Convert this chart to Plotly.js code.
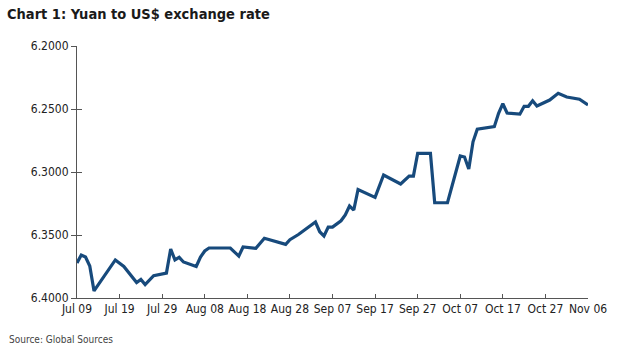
<!DOCTYPE html>
<html>
<head>
<meta charset="utf-8">
<script src="https://cdn.plot.ly/plotly-3.0.1.min.js"></script>
<style>html,body{margin:0;padding:0;background:#fff;}#chart{width:617px;height:360px;}</style>
</head>
<body>
<div id="chart"></div>
<script>
const dates = [
  "2012-07-09","2012-07-10","2012-07-11","2012-07-12","2012-07-13","2012-07-18","2012-07-20",
  "2012-07-23","2012-07-24","2012-07-25","2012-07-27","2012-07-30","2012-07-31","2012-08-01",
  "2012-08-02","2012-08-03","2012-08-06","2012-08-07","2012-08-08","2012-08-09","2012-08-14",
  "2012-08-16","2012-08-17","2012-08-20","2012-08-22","2012-08-27","2012-08-28","2012-08-30",
  "2012-09-03","2012-09-04","2012-09-05","2012-09-06","2012-09-07","2012-09-09","2012-09-10",
  "2012-09-11","2012-09-12","2012-09-13","2012-09-17","2012-09-19","2012-09-23","2012-09-25",
  "2012-09-26","2012-09-27","2012-09-30","2012-10-01","2012-10-04","2012-10-07","2012-10-08",
  "2012-10-09","2012-10-10","2012-10-11","2012-10-15","2012-10-16","2012-10-17","2012-10-18",
  "2012-10-21","2012-10-22","2012-10-23","2012-10-24","2012-10-25","2012-10-28","2012-10-30",
  "2012-11-01","2012-11-04","2012-11-06"
];
const rates = [
  6.3722,6.3659,6.3675,6.3746,6.3944,6.3698,6.3750,
  6.3877,6.3853,6.3893,6.3823,6.3802,6.3611,6.3698,
  6.3677,6.3714,6.3750,6.3675,6.3627,6.3603,6.3603,
  6.3667,6.3595,6.3606,6.3526,6.3574,6.3537,6.3496,
  6.3397,6.3474,6.3508,6.3437,6.3437,6.3387,6.3341,
  6.3270,6.3302,6.3139,6.3201,6.3024,6.3095,6.3032,
  6.3032,6.2852,6.2852,6.3244,6.3244,6.2873,6.2881,
  6.2976,6.2760,6.2660,6.2640,6.2534,6.2458,6.2532,
  6.2541,6.2479,6.2479,6.2435,6.2476,6.2429,6.2375,
  6.2405,6.2422,6.2468
];
const xTickVals = ["2012-07-09","2012-07-19","2012-07-29","2012-08-08","2012-08-18","2012-08-28",
  "2012-09-07","2012-09-17","2012-09-27","2012-10-07","2012-10-17","2012-10-27","2012-11-06"];
const xTickText = ["Jul 09","Jul 19","Jul 29","Aug 08","Aug 18","Aug 28","Sep 07","Sep 17",
  "Sep 27","Oct 07","Oct 17","Oct 27","Nov 06"];
const yTickVals = [6.20, 6.25, 6.30, 6.35, 6.40];
const yTickText = ["6.2000","6.2500","6.3000","6.3500","6.4000"];

const FONT = "'DejaVu Sans Condensed', 'Liberation Sans', sans-serif";

const trace = {
  x: dates, y: rates, type: 'scatter', mode: 'lines',
  line: {color: '#174a7c', width: 3.2},
  hoverinfo: 'skip', showlegend: false
};

const layout = {
  width: 617, height: 360,
  margin: {l: 77, r: 29, t: 46, b: 62},
  paper_bgcolor: '#ffffff', plot_bgcolor: '#ffffff',
  font: {family: FONT, color: '#222222', size: 12},
  title: {
    text: '<b>Chart 1: Yuan to US$ exchange rate</b>',
    font: {family: FONT, size: 14.5, color: '#1a1a1a'},
    x: 7/617, xref: 'container', xanchor: 'left',
    y: 1 - 9/360, yref: 'container', yanchor: 'top'
  },
  xaxis: {
    type: 'date',
    range: ['2012-07-09', '2012-11-06'],
    tickvals: xTickVals, ticktext: xTickText,
    ticks: 'inside', ticklen: 4, tickcolor: '#555555', tickwidth: 1,
    showline: true, linecolor: '#555555', linewidth: 1,
    showgrid: false, zeroline: false,
    tickfont: {family: FONT, size: 12, color: '#222222'}
  },
  yaxis: {
    range: [6.4, 6.2],
    tickvals: yTickVals, ticktext: yTickText,
    ticks: 'outside', ticklen: 5, tickcolor: '#555555', tickwidth: 1,
    showline: true, linecolor: '#555555', linewidth: 1,
    showgrid: false, zeroline: false,
    tickfont: {family: FONT, size: 12, color: '#222222'}
  },
  yaxis2: {
    overlaying: 'y', side: 'left', range: [6.4, 6.2],
    tickvals: yTickVals, ticks: 'inside', ticklen: 5, tickcolor: '#555555',
    showticklabels: false, showline: false, showgrid: false, zeroline: false
  },
  annotations: [{
    text: 'Source: Global Sources', xref: 'paper', yref: 'paper',
    x: -70/511, y: -41/252, xanchor: 'left', yanchor: 'middle',
    showarrow: false, font: {family: FONT, size: 10, color: '#444444'}
  }]
};

Plotly.newPlot('chart', [trace, {x: [dates[0]], y: [rates[0]], yaxis: 'y2', mode: 'lines', showlegend: false, hoverinfo: 'skip', line: {color: 'rgba(0,0,0,0)'}}], layout, {staticPlot: true});
</script>
</body>
</html>
